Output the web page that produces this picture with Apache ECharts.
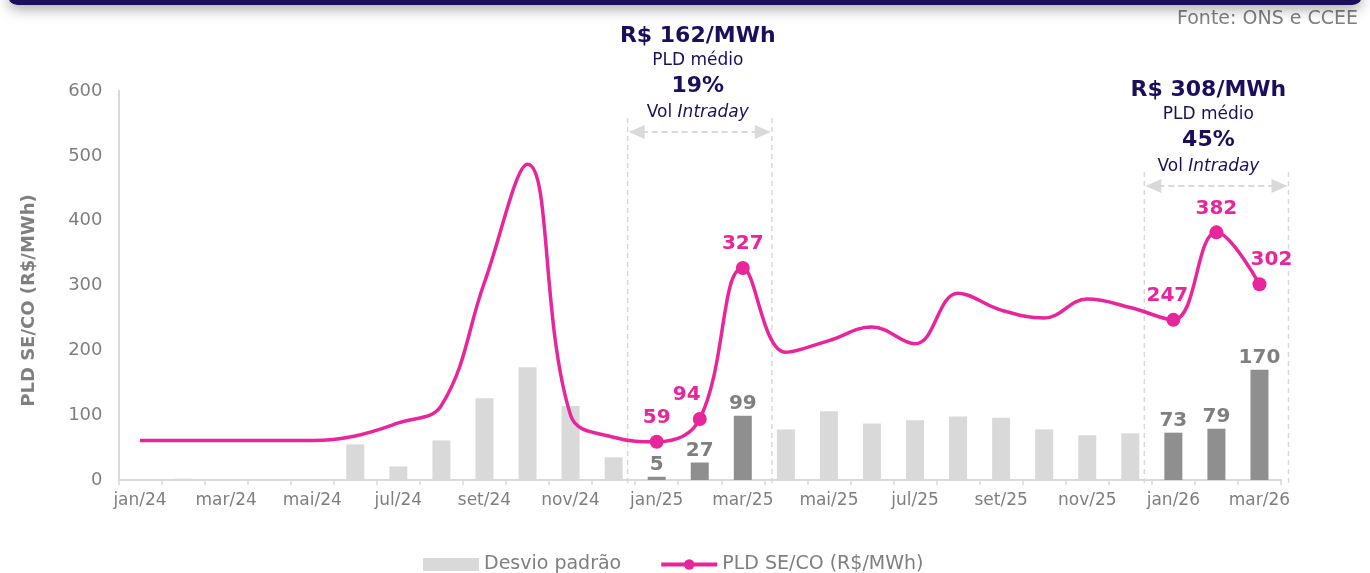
<!DOCTYPE html>
<html lang="pt">
<head>
    <meta charset="UTF-8">
    <title>PLD SE/CO</title>
    <style>
        html, body { margin: 0; padding: 0; background: #fff; }
    </style>
</head>
<body>
<div class="main" style="width: 1370px;height: 573px;"></div>
</body>
<script src="https://cdn.jsdelivr.net/npm/echarts@6/dist/echarts.min.js"></script>
<script>
    // meses
    var categories = ['jan/24', 'fev/24', 'mar/24', 'abr/24', 'mai/24', 'jun/24', 'jul/24', 'ago/24', 'set/24', 'out/24', 'nov/24', 'dez/24',
        'jan/25', 'fev/25', 'mar/25', 'abr/25', 'mai/25', 'jun/25', 'jul/25', 'ago/25', 'set/25', 'out/25', 'nov/25', 'dez/25',
        'jan/26', 'fev/26', 'mar/26'];
    // desvio padrão (barras)
    var desvio = [1, 2, 0, 0, 0, 55, 21, 61, 126, 174, 114, 35,
        5, 27, 99, 78, 106, 87, 92, 98, 96, 78, 69, 72,
        73, 79, 170];
    // PLD SE/CO (linha)
    var pld = [61, 61, 61, 61, 61, 68, 88, 115, 305, 487, 100, 66,
        59, 94, 327, 197, 215, 236, 210, 288, 262, 250, 279, 266,
        247, 382, 302];
    // meses destacados
    var destaque = ['jan/25', 'fev/25', 'mar/25', 'jan/26', 'fev/26', 'mar/26'];
    var yTicks = [0, 100, 200, 300, 400, 500, 600];

    var ROSA = '#e8259a';
    var CINZA = '#d9d9d9';
    var CINZA_ESCURO = '#8f8f8f';
    var TEXTO = '#7f7f7f';
    var AZUL = '#1d0e5c';
    var FONTE = '"DejaVu Sans", sans-serif';

    var main = document.querySelector(".main");
    var chart = echarts.init(main);

    var barData = desvio.map(function (v, i) {
        var on = destaque.indexOf(categories[i]) >= 0;
        return {
            value: v,
            itemStyle: {color: on ? CINZA_ESCURO : CINZA},
            label: {show: on}
        };
    });

    // deslocamento de alguns rótulos da linha
    var labelOffset = {'fev/25': [-13, 0], 'jan/26': [-6, 0], 'mar/26': [12, 0]};

    var lineData = pld.map(function (v, i) {
        var on = destaque.indexOf(categories[i]) >= 0;
        var item = {value: v, symbol: on ? 'circle' : 'none', label: {show: on}};
        if (labelOffset[categories[i]]) item.label.offset = labelOffset[categories[i]];
        return item;
    });

    var option = {
        animation: false,
        textStyle: {fontFamily: FONTE},
        grid: {left: 118.5, right: 89, top: 91, bottom: 93},
        legend: {
            left: 418,
            top: 550,
            itemWidth: 56,
            itemHeight: 13,
            itemGap: 38,
            textStyle: {color: TEXTO, fontSize: 19, fontFamily: FONTE},
            data: [
                {name: 'Desvio padrão', icon: 'rect'},
                {name: 'PLD SE/CO (R$/MWh)', lineStyle: {width: 4}}
            ]
        },
        xAxis: {
            type: 'category',
            data: categories,
            boundaryGap: true,
            axisLine: {lineStyle: {color: CINZA, width: 2}},
            axisTick: {show: true, interval: 0, length: 5, lineStyle: {color: CINZA, width: 1.5}},
            axisLabel: {interval: 1, color: TEXTO, fontSize: 17, margin: 12, fontFamily: FONTE}
        },
        yAxis: {
            type: 'value',
            min: yTicks[0],
            max: yTicks[yTicks.length - 1],
            interval: 100,
            name: 'PLD SE/CO (R$/MWh)',
            nameLocation: 'middle',
            nameRotate: 90,
            nameGap: 80,
            nameTextStyle: {color: TEXTO, fontSize: 18, fontWeight: 'bold', fontFamily: FONTE, padding: [0, 30, 0, 0]},
            splitLine: {show: false},
            axisLine: {show: true, lineStyle: {color: CINZA, width: 2}},
            axisTick: {show: false},
            axisLabel: {color: TEXTO, fontSize: 18, margin: 16, fontFamily: FONTE}
        },
        series: [
            {
                name: 'Desvio padrão',
                type: 'bar',
                barWidth: 18,
                itemStyle: {color: CINZA},
                label: {
                    position: 'top',
                    distance: 2,
                    color: TEXTO,
                    fontSize: 20,
                    fontWeight: 'bold',
                    fontFamily: FONTE
                },
                data: barData,
                z: 2
            },
            {
                name: 'PLD SE/CO (R$/MWh)',
                type: 'line',
                smooth: 0.4,
                symbol: 'circle',
                symbolSize: 14,
                showAllSymbol: true,
                itemStyle: {color: ROSA},
                lineStyle: {color: ROSA, width: 3.5},
                label: {
                    position: 'top',
                    distance: 7,
                    color: ROSA,
                    fontSize: 20,
                    fontWeight: 'bold',
                    fontFamily: FONTE
                },
                data: lineData,
                z: 5
            }
        ]
    };
    chart.setOption(option);

    // anotações (linhas tracejadas, setas e textos) posicionadas pelos eixos
    function px(cat) {
        return chart.convertToPixel({xAxisIndex: 0}, cat);
    }
    function py(v) {
        return chart.convertToPixel({yAxisIndex: 0}, v);
    }
    var step = px('fev/24') - px('jan/24');
    var yBase = py(0);

    function bloco(first, last, yArrow, textCenter, titulo, pct) {
        var x1 = px(first) - step / 2 - 7.5;
        var x2 = px(last) + step / 2 + 7.5;
        var dash = {stroke: CINZA, lineWidth: 1.5, lineDash: [5, 4]};
        var t = yArrow - 96;
        return [
            {type: 'line', shape: {x1: x1, y1: yArrow - 14, x2: x1, y2: yBase + 6}, style: dash, z: 1},
            {type: 'line', shape: {x1: x2, y1: yArrow - 14, x2: x2, y2: yBase + 6}, style: dash, z: 1},
            {type: 'line', shape: {x1: x1 + 14, y1: yArrow, x2: x2 - 14, y2: yArrow},
                style: {stroke: CINZA, lineWidth: 2, lineDash: [6, 4]}, z: 1},
            {type: 'polygon', shape: {points: [[x1 + 1, yArrow], [x1 + 17, yArrow - 7], [x1 + 17, yArrow + 7]]},
                style: {fill: CINZA}, z: 1},
            {type: 'polygon', shape: {points: [[x2 - 1, yArrow], [x2 - 17, yArrow - 7], [x2 - 17, yArrow + 7]]},
                style: {fill: CINZA}, z: 1},
            {type: 'text', x: textCenter, y: t, style: {text: titulo, fill: AZUL, font: 'bold 22px ' + FONTE,
                    textAlign: 'center', textVerticalAlign: 'middle'}},
            {type: 'text', x: textCenter, y: t + 25, style: {text: 'PLD médio', fill: AZUL, font: '17px ' + FONTE,
                    textAlign: 'center', textVerticalAlign: 'middle'}},
            {type: 'text', x: textCenter, y: t + 50, style: {text: pct, fill: AZUL, font: 'bold 22px ' + FONTE,
                    textAlign: 'center', textVerticalAlign: 'middle'}},
            {type: 'text', x: textCenter, y: t + 77, style: {
                    text: '{n|Vol }{i|Intraday}',
                    textAlign: 'center', textVerticalAlign: 'middle',
                    rich: {
                        n: {fill: AZUL, fontSize: 17, fontFamily: FONTE},
                        i: {fill: AZUL, fontSize: 17, fontStyle: 'italic', fontFamily: FONTE}
                    }
                }}
        ];
    }

    var graphics = [
        {type: 'rect', shape: {x: 8, y: -14, width: 1354, height: 19, r: 10},
            style: {fill: AZUL, shadowBlur: 14, shadowColor: 'rgba(0,0,0,0.35)', shadowOffsetY: 4}, z: 10},
        {type: 'text', x: 1358, y: 19, style: {text: 'Fonte: ONS e CCEE', fill: TEXTO, font: '19px ' + FONTE,
                textAlign: 'right', textVerticalAlign: 'middle'}}
    ];
    graphics = graphics.concat(bloco('jan/25', 'mar/25', 132, px('fev/25') - 2, 'R$ 162/MWh', '19%'));
    graphics = graphics.concat(bloco('jan/26', 'mar/26', 186, px('fev/26') - 8, 'R$ 308/MWh', '45%'));

    chart.setOption({graphic: graphics});
</script>
</html>
